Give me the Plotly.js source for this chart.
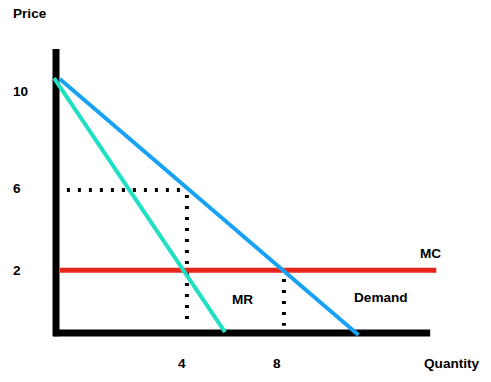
<!DOCTYPE html>
<html><head><meta charset="utf-8">
<script src="https://cdn.plot.ly/plotly-3.0.1.min.js"></script>
<style>html,body{margin:0;padding:0;background:#fff}#chart{width:491px;height:382px}</style>
</head><body><div id="chart"></div>
<script>
// Schematic (not-to-scale) sketch coordinates: quantity (x) and price (y)
const demandQ = [0.12, 9.45];
const demandP = [10.58, -0.08];
const mrQ = [-0.06, 5.28];
const mrP = [10.62, 0.04];
const mcQ = [0.12, 11.88];
const mcP = [2.62, 2.62];
const monoPriceQ = [0.34, 3.95];      // dotted line at price 6
const monoPriceP = [5.96, 5.96];
const monoQtyQ = [4.09, 4.09];       // dotted line at quantity 4
const monoQtyP = [5.75, 0.5];
const compQtyQ = [7.12, 7.12];       // dotted line at quantity 8
const compQtyP = [2.25, 0.3];
const yAxisQ = [0, 0];
const yAxisP = [11.83, -0.13];
const xAxisQ = [-0.09, 11.69];
const xAxisP = [0, 0];

const priceTicks = ['10', '6', '2'];
const priceTickPos = [10.08, 6.04, 2.62];
const qtyTicks = ['4', '8'];
const qtyTickPos = [3.94, 6.9];
const curveLabels = ['MR', 'Demand', 'MC'];
const curveLabelQ = [5.83, 10.16, 11.7];
const curveLabelP = [1.38, 1.46, 3.3];

const font = {family: 'Liberation Sans, Arial, sans-serif', size: 13.6, color: '#000'};
const dotted = {color: '#000', width: 4, dash: '3px,8px'};

const traces = [
  {x: yAxisQ, y: yAxisP, mode: 'lines', line: {color: '#000', width: 7}},
  {x: xAxisQ, y: xAxisP, mode: 'lines', line: {color: '#000', width: 7}},
  {x: monoPriceQ, y: monoPriceP, mode: 'lines', line: dotted},
  {x: monoQtyQ, y: monoQtyP, mode: 'lines', line: dotted},
  {x: compQtyQ, y: compQtyP, mode: 'lines', line: dotted},
  {x: mcQ, y: mcP, mode: 'lines', line: {color: '#e8251a', width: 5}},
  {x: mrQ, y: mrP, mode: 'lines', line: {color: '#1fe0c2', width: 4}},
  {x: demandQ, y: demandP, mode: 'lines', line: {color: '#18a2f5', width: 4}}
];

const annotations = [];
priceTicks.forEach((t, i) => annotations.push({x: -1.4, y: priceTickPos[i], text: '<b>' + t + '</b>', xanchor: 'left', yanchor: 'middle', showarrow: false, font}));
qtyTicks.forEach((t, i) => annotations.push({x: qtyTickPos[i], y: -1.25, text: '<b>' + t + '</b>', xanchor: 'center', yanchor: 'middle', showarrow: false, font}));
curveLabels.forEach((t, i) => annotations.push({x: curveLabelQ[i], y: curveLabelP[i], text: '<b>' + t + '</b>', xanchor: 'center', yanchor: 'middle', showarrow: false, font}));
annotations.push({x: -0.81, y: 13.3, text: '<b>Price</b>', xanchor: 'center', yanchor: 'middle', showarrow: false, font});
annotations.push({x: 12.38, y: -1.25, text: '<b>Quantity</b>', xanchor: 'center', yanchor: 'middle', showarrow: false, font});

const layout = {
  width: 491, height: 382,
  margin: {l: 0, r: 0, t: 0, b: 0, pad: 0},
  paper_bgcolor: '#fff', plot_bgcolor: '#fff',
  showlegend: false,
  xaxis: {range: [-1.75, 13.59], visible: false, fixedrange: true},
  yaxis: {range: [-2.04, 13.875], visible: false, fixedrange: true},
  annotations
};
Plotly.newPlot('chart', traces, layout, {displayModeBar: false, staticPlot: true});
</script></body></html>
